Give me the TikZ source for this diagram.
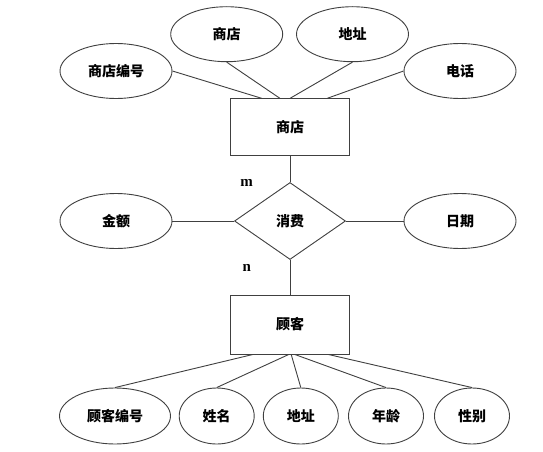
\documentclass[tikz,border=0pt]{standalone}
\usepackage{fontspec}
\newfontfamily\cjk{Noto Sans CJK SC}
\setmainfont{Liberation Serif}
\usetikzlibrary{shapes.geometric,calc}
\begin{document}
\begin{tikzpicture}[x=1pt,y=-1pt,
  every node/.style={font=\cjk\bfseries\fontsize{14}{16}\selectfont, text=black},
  attr/.style={ellipse, draw=black!75, line width=0.9pt, inner sep=0pt, minimum width=112pt, minimum height=55pt},
  sattr/.style={attr, minimum width=75pt, minimum height=56pt},
  ent/.style={rectangle, draw=black!75, line width=0.9pt, inner sep=0pt, minimum width=118.6pt, minimum height=57pt},
  rel/.style={diamond, draw=black!75, line width=0.9pt, inner sep=0pt, minimum width=111pt, minimum height=77pt},
  conn/.style={draw=black!75, line width=0.9pt},
  card/.style={font=\bfseries\fontsize{15}{17}\selectfont}]
\useasboundingbox (0,0) rectangle (543,452);
\fill[white] (0,0) rectangle (543,452);
% top
\node[ent] (shop) at (290,127.3) {商店};
\node[attr] (a1) at (116,71) {商店编号};
\node[attr] (a2) at (226.7,34.2) {商店};
\node[attr] (a3) at (352.5,34.2) {地址};
\node[attr] (a4) at (460,71) {电话};
% middle
\node[rel] (buy) at (290,221) {消费};
\node[attr] (b1) at (116,221) {金额};
\node[attr] (b2) at (460,221) {日期};
% bottom
\node[ent, minimum height=59pt] (cust) at (290,324.5) {顾客};
\node[attr, minimum width=111pt, minimum height=56pt] (c1) at (115,416) {顾客编号};
\node[sattr] (c2) at (216.7,416) {姓名};
\node[sattr] (c3) at (300.8,416) {地址};
\node[sattr] (c4) at (386,416) {年龄};
\node[sattr] (c5) at (472,416) {性别};
% cardinalities
\node[card] (m) at (246.7,183) {m};
\node[card] (n) at (246.7,267.5) {n};
% attachment points
\coordinate (s1) at ($(shop.north west)!0.264!(shop.north east)$);
\coordinate (s2) at ($(shop.north west)!0.416!(shop.north east)$);
\coordinate (s3) at ($(shop.north west)!0.5!(shop.north east)$);
\coordinate (s4) at ($(shop.north west)!0.811!(shop.north east)$);
\coordinate (u1) at ($(cust.south west)!0.19!(cust.south east)$);
\coordinate (u2) at ($(cust.south west)!0.49!(cust.south east)$);
\coordinate (u3) at ($(cust.south west)!0.51!(cust.south east)$);
\coordinate (u4) at ($(cust.south west)!0.54!(cust.south east)$);
\coordinate (u5) at ($(cust.south west)!0.82!(cust.south east)$);
% connectors
\draw[conn] (a1.east) -- (s1);
\draw[conn] (a2.south) -- (s2);
\draw[conn] (a3.south) -- (s3);
\draw[conn] (a4.west) -- (s4);
\draw[conn] (shop.south) -- (buy.north);
\draw[conn] (buy.south) -- (cust.north);
\draw[conn] (b1.east) -- (buy.west);
\draw[conn] (b2.west) -- (buy.east);
\draw[conn] (c1.north) -- (u1);
\draw[conn] (c2.north) -- (u2);
\draw[conn] (c3.north) -- (u3);
\draw[conn] (c4.north) -- (u4);
\draw[conn] (c5.north) -- (u5);
\end{tikzpicture}
\end{document}
